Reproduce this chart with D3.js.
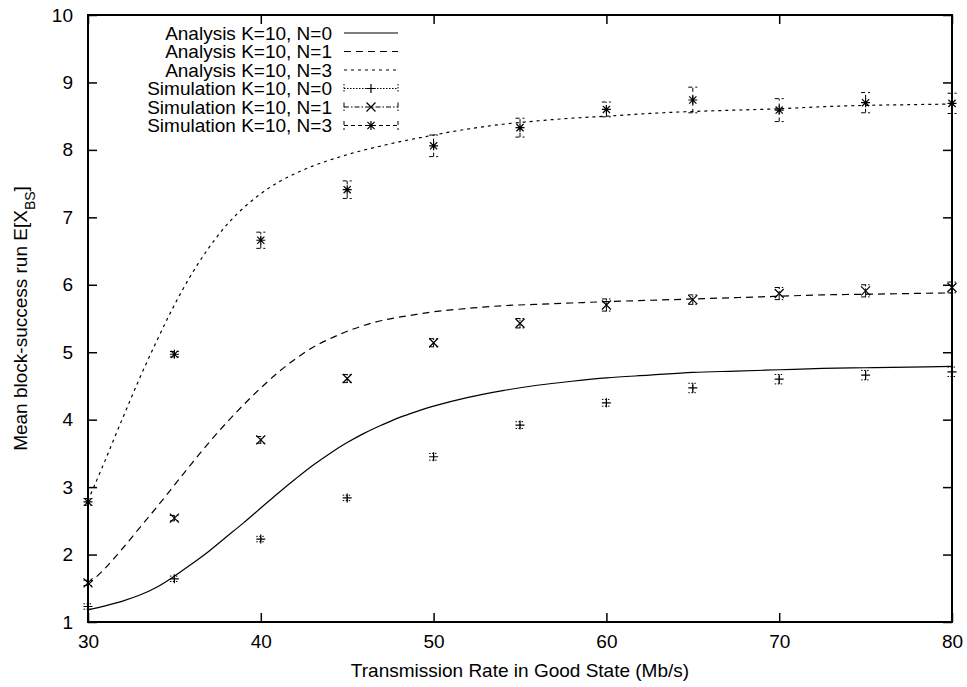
<!DOCTYPE html>
<html>
<head>
<meta charset="utf-8">
<script src="https://cdn.jsdelivr.net/npm/d3@7"></script>
<style>
html,body{margin:0;padding:0;background:#fff;}
text{font-family:"Liberation Sans",Arial,sans-serif;fill:#000;}
</style>
</head>
<body>
<svg id="chart" width="967" height="687"></svg>
<script>
// ---- data ----
const analysisX = [30,31,32,33,34,35,36,37,38,39,40,41,42,43,44,45,46,47,48,49,50,52,54,56,58,60,62.5,65,67.5,70,72.5,75,77.5,80];
const analysisN0 = [1.18,1.24,1.31,1.40,1.52,1.68,1.86,2.05,2.26,2.47,2.69,2.91,3.12,3.32,3.50,3.66,3.80,3.92,4.03,4.12,4.20,4.33,4.43,4.51,4.57,4.62,4.66,4.70,4.72,4.74,4.76,4.77,4.78,4.79];
const analysisN1 = [1.55,1.80,2.09,2.40,2.71,3.03,3.35,3.66,3.95,4.22,4.47,4.70,4.90,5.07,5.20,5.31,5.40,5.47,5.52,5.56,5.60,5.65,5.69,5.71,5.73,5.75,5.77,5.79,5.81,5.83,5.85,5.86,5.87,5.88];
const analysisN3 = [2.80,3.40,4.02,4.62,5.18,5.70,6.16,6.55,6.88,7.14,7.35,7.52,7.65,7.76,7.85,7.93,8.00,8.06,8.12,8.17,8.22,8.31,8.38,8.43,8.47,8.50,8.54,8.57,8.59,8.61,8.64,8.66,8.67,8.68];

const simX  = [30,35,40,45,50,55,60,65,70,75,80];
const simN0 = [1.23,1.64,2.23,2.84,3.45,3.92,4.25,4.47,4.60,4.66,4.71];
const errN0 = [0.04,0.04,0.04,0.04,0.05,0.05,0.05,0.07,0.07,0.07,0.07];
const simN1 = [1.58,2.54,3.70,4.61,5.14,5.43,5.70,5.78,5.87,5.91,5.96];
const errN1 = [0.04,0.04,0.05,0.06,0.06,0.07,0.09,0.07,0.09,0.09,0.08];
const simN3 = [2.78,4.97,6.66,7.41,8.06,8.33,8.60,8.74,8.59,8.70,8.69];
const errN3 = [0.05,0.04,0.12,0.13,0.16,0.14,0.11,0.19,0.17,0.15,0.15];

const xTicks = [30,40,50,60,70,80];
const yTicks = [1,2,3,4,5,6,7,8,9,10];

const legendLabels = ["Analysis K=10, N=0","Analysis K=10, N=1","Analysis K=10, N=3",
                      "Simulation K=10, N=0","Simulation K=10, N=1","Simulation K=10, N=3"];
const xLabel = "Transmission Rate in Good State (Mb/s)";

// ---- layout ----
const L = 88, R = 952, T = 15, B = 622;
const FS = "19px";
const svg = d3.select("#chart");
const x = d3.scaleLinear().domain([30,80]).range([L,R]);
const y = d3.scaleLinear().domain([1,10]).range([B,T]);

// ticks (inward, mirrored)
const tickLen = 9;
const axB = svg.append("g").attr("transform",`translate(0,${B})`)
  .call(d3.axisBottom(x).tickValues(xTicks).tickSize(-tickLen).tickPadding(13).tickFormat(d3.format("d")));
const axT = svg.append("g").attr("transform",`translate(0,${T})`)
  .call(d3.axisTop(x).tickValues(xTicks).tickSize(-tickLen).tickFormat(""));
const axL = svg.append("g").attr("transform",`translate(${L},0)`)
  .call(d3.axisLeft(y).tickValues(yTicks).tickSize(-tickLen).tickPadding(15).tickFormat(d3.format("d")));
const axR = svg.append("g").attr("transform",`translate(${R},0)`)
  .call(d3.axisRight(y).tickValues(yTicks).tickSize(-tickLen).tickFormat(""));
[axB,axT,axL,axR].forEach(g=>{
  g.select(".domain").remove();
  g.selectAll(".tick line").attr("stroke","#000").attr("stroke-width",1.5);
  g.selectAll("text").style("font-size",FS).style("font-family","'Liberation Sans',Arial,sans-serif").attr("fill","#000");
});

// frame
svg.append("rect").attr("x",L).attr("y",T).attr("width",R-L).attr("height",B-T)
  .attr("fill","none").attr("stroke","#000").attr("stroke-width",2);

// axis labels
svg.append("text").attr("x",(L+R)/2).attr("y",677).attr("text-anchor","middle")
  .style("font-size",FS).text(xLabel);
const yl = svg.append("text").attr("transform",`translate(27,${(T+B)/2}) rotate(-90)`)
  .attr("text-anchor","middle").style("font-size",FS);
yl.append("tspan").text("Mean block-success run E[X");
yl.append("tspan").attr("baseline-shift","sub").style("font-size","14px").text("BS");
yl.append("tspan").text("]");

// analysis curves
const styles = ["none","7,5","3,4"];
const curves = [analysisN0, analysisN1, analysisN3];
const line = d3.line().x(d=>x(d[0])).y(d=>y(d[1])).curve(d3.curveCatmullRom);
curves.forEach((c,i)=>{
  svg.append("path").datum(analysisX.map((v,j)=>[v,c[j]]))
    .attr("d",line).attr("fill","none").attr("stroke","#000")
    .attr("stroke-width",1.2).attr("stroke-dasharray",styles[i]);
});

// simulation points with error bars
const sims = [simN0, simN1, simN3];
const errs = [errN0, errN1, errN3];
const barDash = ["1.5,1.5","5,2,1.5,2","4,3"];
const cap = 4.5, ms = 4.5;
function marker(g, cx, cy, type){
  const p = d3.path();
  if(type===0 || type===2){
    p.moveTo(cx-ms,cy); p.lineTo(cx+ms,cy);
    p.moveTo(cx,cy-ms); p.lineTo(cx,cy+ms);
  }
  if(type===1 || type===2){
    const k = type===2 ? ms*0.8 : ms;
    p.moveTo(cx-k,cy-k); p.lineTo(cx+k,cy+k);
    p.moveTo(cx-k,cy+k); p.lineTo(cx+k,cy-k);
  }
  g.append("path").attr("d",p.toString()).attr("stroke","#000").attr("stroke-width",1.2).attr("fill","none");
}
sims.forEach((s,i)=>{
  const g = svg.append("g");
  simX.forEach((xv,j)=>{
    const cx = x(xv), y1 = y(s[j]-errs[i][j]), y2 = y(s[j]+errs[i][j]);
    const p = d3.path();
    p.moveTo(cx,y1); p.lineTo(cx,y2);
    p.moveTo(cx-cap,y1); p.lineTo(cx+cap,y1);
    p.moveTo(cx-cap,y2); p.lineTo(cx+cap,y2);
    g.append("path").attr("d",p.toString()).attr("stroke","#000").attr("stroke-width",1)
      .attr("fill","none").attr("stroke-dasharray",barDash[i]);
    marker(g, cx, y(s[j]), i);
  });
});

// legend
const legRight = 332, sx1 = 344, sx2 = 398;
const rowY = [33,51.5,70,88.5,107,125.5];
legendLabels.forEach((lab,i)=>{
  svg.append("text").attr("x",legRight).attr("y",rowY[i]).attr("dy","0.35em")
    .attr("text-anchor","end").style("font-size",FS).text(lab);
  if(i<3){
    svg.append("line").attr("x1",sx1).attr("x2",sx2).attr("y1",rowY[i]).attr("y2",rowY[i])
      .attr("stroke","#000").attr("stroke-width",1.2).attr("stroke-dasharray",styles[i]);
  } else {
    const k = i-3;
    const p = d3.path();
    p.moveTo(sx1,rowY[i]); p.lineTo(sx2,rowY[i]);
    p.moveTo(sx1,rowY[i]-cap); p.lineTo(sx1,rowY[i]+cap);
    p.moveTo(sx2,rowY[i]-cap); p.lineTo(sx2,rowY[i]+cap);
    svg.append("path").attr("d",p.toString()).attr("stroke","#000").attr("stroke-width",1)
      .attr("fill","none").attr("stroke-dasharray",barDash[k]);
    marker(svg, (sx1+sx2)/2, rowY[i], k);
  }
});
</script>
</body>
</html>
